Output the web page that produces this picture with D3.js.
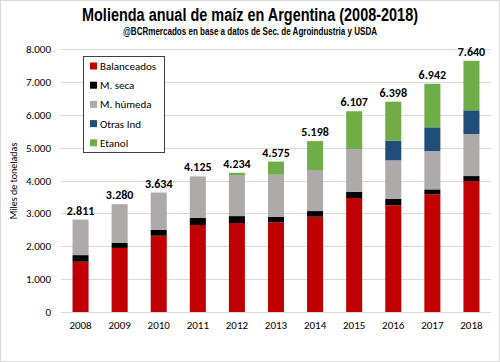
<!DOCTYPE html>
<html>
<head>
<meta charset="utf-8">
<script src="https://cdn.jsdelivr.net/npm/d3@7"></script>
<style>
  body { margin: 0; background: #fff; }
  svg { display: block; }
  text { font-family: Carlito, Lato, "Liberation Sans", sans-serif; }
</style>
</head>
<body>
<div id="holder"></div>
<script>
var years = ['2008','2009','2010','2011','2012','2013','2014','2015','2016','2017','2018'];
var seriesNames = ['Balanceados','M. seca','M. húmeda','Otras Ind','Etanol'];
var seriesColors = ['#c00000','#000000','#aeaaaa','#1f4e79','#70ad47'];
var balanceados = [1530, 1950, 2320, 2646, 2707, 2728, 2900, 3468, 3245, 3580, 3985];
var mSeca       = [ 200,  150,  175,  220,  210,  170,  170,  190,  200,  150,  150];
var mHumeda     = [1081, 1180, 1139, 1259, 1250, 1279, 1249, 1300, 1169, 1167, 1280];
var otrasInd    = [   0,    0,    0,    0,    0,    0,    0,    0,  598,  720,  720];
var etanol      = [   0,    0,    0,    0,   67,  398,  879, 1149, 1186, 1325, 1505];
var totals      = [2811, 3280, 3634, 4125, 4234, 4575, 5198, 6107, 6398, 6942, 7640];
var yTicks = [0, 1000, 2000, 3000, 4000, 5000, 6000, 7000, 8000];

var W = 500, H = 362;
var es = d3.formatLocale({decimal: ',', thousands: '.', grouping: [3], currency: ['$', '']});
var fmt = es.format(',');

var svg = d3.select('#holder').append('svg').attr('width', W).attr('height', H);

svg.append('rect')
  .attr('x', 0.5).attr('y', 0.5).attr('width', W - 1).attr('height', H - 1)
  .style('fill', '#fff').style('stroke', '#d9d9d9');

// titles (condensed face squeezed to the original width)
svg.append('text')
  .attr('x', 82).attr('y', 21)
  .attr('textLength', 336).attr('lengthAdjust', 'spacingAndGlyphs')
  .style('font-family', '"Liberation Sans Narrow", "Arial Narrow", "Liberation Sans", sans-serif')
  .style('font-weight', 'bold').style('font-size', '18px')
  .text('Molienda anual de maíz en Argentina (2008-2018)');
svg.append('text')
  .attr('x', 123).attr('y', 35)
  .attr('textLength', 254).attr('lengthAdjust', 'spacingAndGlyphs')
  .style('font-family', '"Liberation Sans Narrow", "Arial Narrow", "Liberation Sans", sans-serif')
  .style('font-weight', 'bold').style('font-size', '10.5px')
  .text('@BCRmercados en base a datos de Sec. de Agroindustria y USDA');

var x = d3.scaleBand().domain(years).range([61, 491]).paddingInner(0.59).paddingOuter(0.295);
var y = d3.scaleLinear().domain([0, 8000]).range([312, 49]);

// grid
svg.append('g').selectAll('line').data(yTicks).enter().append('line')
  .attr('x1', 61).attr('x2', 491)
  .attr('y1', function(d) { return Math.round(y(d)) + 0.5; })
  .attr('y2', function(d) { return Math.round(y(d)) + 0.5; })
  .style('stroke', '#d9d9d9').style('stroke-width', 1);

// y axis labels
var yAxis = d3.axisLeft(y).tickValues(yTicks).tickFormat(fmt).tickSize(0).tickPadding(10);
var gy = svg.append('g').attr('transform', 'translate(61,0)').call(yAxis);
gy.select('.domain').remove();
gy.selectAll('text').style('font-size', '11px').style('fill', '#000')
  .style('font-family', 'Carlito, Lato, "Liberation Sans", sans-serif');

svg.append('text')
  .attr('transform', 'translate(17,181) rotate(-90)')
  .attr('text-anchor', 'middle')
  .style('font-size', '10px')
  .text('Miles de toneladas');

// x axis labels
var xAxis = d3.axisBottom(x).tickSize(0).tickPadding(9);
var gx = svg.append('g').attr('transform', 'translate(0,312)').call(xAxis);
gx.select('.domain').remove();
gx.selectAll('text').style('font-size', '11px').style('fill', '#000')
  .style('font-family', 'Carlito, Lato, "Liberation Sans", sans-serif');

// stacked bars
var rows = years.map(function(yr, i) {
  return {year: yr, 'Balanceados': balanceados[i], 'M. seca': mSeca[i], 'M. húmeda': mHumeda[i],
          'Otras Ind': otrasInd[i], 'Etanol': etanol[i]};
});
var stack = d3.stack().keys(seriesNames)(rows);

svg.append('g').selectAll('g').data(stack).enter().append('g')
  .style('fill', function(d, i) { return seriesColors[i]; })
  .selectAll('rect').data(function(d) { return d; }).enter().append('rect')
  .attr('x', function(d) { return x(d.data.year); })
  .attr('width', x.bandwidth())
  .attr('y', function(d) { return y(d[1]); })
  .attr('height', function(d) { return y(d[0]) - y(d[1]); });

// totals
svg.append('g').selectAll('text').data(totals).enter().append('text')
  .attr('x', function(d, i) { return x(years[i]) + x.bandwidth() / 2; })
  .attr('y', function(d) { return y(d) - 5; })
  .attr('text-anchor', 'middle')
  .style('font-weight', 'bold').style('font-size', '12px')
  .text(function(d) { return fmt(d); });

// legend
var lg = svg.append('g').attr('transform', 'translate(83,56)');
lg.append('rect').attr('x', 0.5).attr('y', 0.5).attr('width', 81).attr('height', 96)
  .style('fill', '#fff').style('stroke', '#404040').style('stroke-width', 1);
var items = lg.selectAll('g.item').data(seriesNames).enter().append('g')
  .attr('transform', function(d, i) { return 'translate(0,' + (10 + i * 19.2) + ')'; });
items.append('rect').attr('x', 7).attr('y', -3.5).attr('width', 7).attr('height', 7)
  .style('fill', function(d, i) { return seriesColors[i]; });
items.append('text').attr('x', 17).attr('y', 4)
  .style('font-size', '11px')
  .text(function(d) { return d; });
</script>
</body>
</html>
